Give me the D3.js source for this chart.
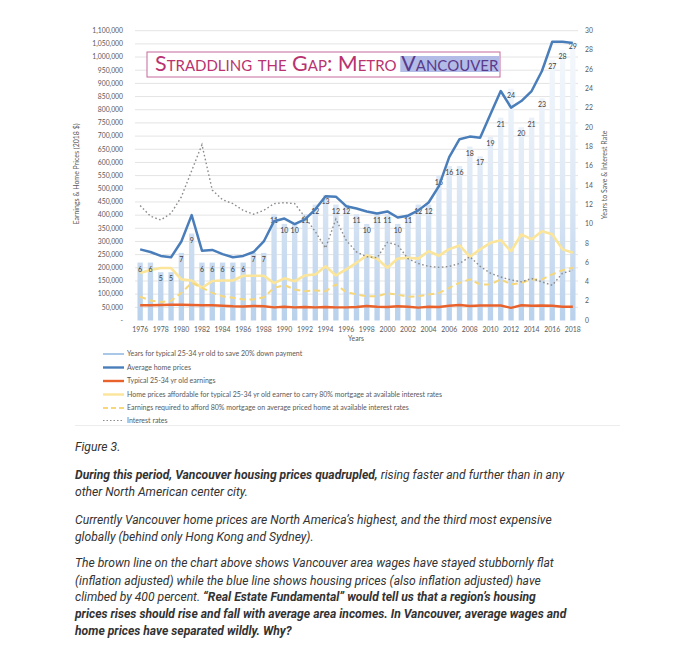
<!DOCTYPE html>
<html><head><meta charset="utf-8">
<script src="https://cdn.jsdelivr.net/npm/d3@7"></script>
<style>body{margin:0;background:#fff}svg{display:block}</style>
</head><body>
<svg id="c" width="674" height="652"></svg>
<script>
const years = [1976,1977,1978,1979,1980,1981,1982,1983,1984,1985,1986,1987,1988,1989,1990,1991,1992,1993,1994,1995,1996,1997,1998,1999,2000,2001,2002,2003,2004,2005,2006,2007,2008,2009,2010,2011,2012,2013,2014,2015,2016,2017,2018];
const yearsToSave = [6,6,5,5,7,9,6,6,6,6,6,7,7,11,10,10,11,12,13,12,12,11,10,11,11,10,11,12,12,15,16,16,18,17,19,21,24,20,21,23,27,28,29];
const homePrices = [270,260,245,240,300,400,265,268,252,240,245,260,300,377,387,366,384,422,472,470,434,425,414,406,414,391,398,418,448,510,620,688,698,694,783,871,808,833,871,947,1058,1058,1053].map(v=>v*1000);
const earnings = [58,58,59,60,60,59,58,58,56,54,53,55,54,50,52,50,51,50,51,50,50,51,55,52,51,54,52,49,52,51,56,59,55,57,57,57,48,58,56,57,56,52,52].map(v=>v*1000);
const affordable = [180,192,199,199,156,152,124,150,152,152,170,170,170,142,160,149,171,175,206,171,194,219,247,234,200,235,238,235,263,246,271,285,242,270,295,305,263,327,308,339,327,270,257].map(v=>v*1000);
const required = [90,76,70,75,105,143,124,105,92,86,80,80,88,124,134,118,111,114,111,137,108,99,92,92,103,98,90,92,99,104,124,143,156,137,137,156,137,143,156,156,175,191,200].map(v=>v*1000);
const interest = [11.9,10.8,10.4,11.1,12.8,15.5,18.2,13.5,12.5,12.1,11.4,11.0,11.4,12.1,12.2,12.1,10.7,9.2,7.5,10.5,8.3,7.1,6.6,6.5,8.1,7.8,6.4,5.9,5.6,5.5,5.6,5.9,6.6,5.6,4.9,4.5,4.2,4.0,4.35,4.0,3.65,4.9,5.2];
const leftTicks = d3.range(0, 1100001, 50000);
const rightTicks = [0,2,4,6,8,10,12,14,16,18,20,22,24,26,28,30];
const xTickYears = years.filter(y => (y - 1976) % 2 === 0);
const legendLabels = [
  "Years for typical 25-34 yr old to save 20% down payment",
  "Average home prices",
  "Typical 25-34 yr old earnings",
  "Home prices affordable for typical 25-34 yr old earner to carry 80% mortgage at available interest rates",
  "Earnings required to afford 80% mortgage on average priced home at available interest rates",
  "Interest rates"
];

const svg = d3.select("#c");
const F = "Lato, 'Open Sans', sans-serif";
const x = d3.scaleBand().domain(years).range([135, 578]).paddingInner(0.48).paddingOuter(0.24);
const cx = d => x(d) + x.bandwidth()/2;
const yL = d3.scaleLinear().domain([0, 1100000]).range([320.5, 30.7]);
const yR = d3.scaleLinear().domain([0, 30]).range([320.5, 30.7]);

const defs = svg.append("defs");
const g1 = defs.append("linearGradient").attr("id","barg").attr("gradientUnits","userSpaceOnUse")
  .attr("x1",0).attr("x2",0).attr("y1",yR(30)).attr("y2",yR(0));
g1.append("stop").attr("offset","0").attr("stop-color","#f7fafd");
g1.append("stop").attr("offset","0.5").attr("stop-color","#e0eaf6");
g1.append("stop").attr("offset","1").attr("stop-color","#b9d1ec");

svg.append("g").selectAll("line").data(leftTicks.slice(1)).join("line")
  .attr("x1",135).attr("x2",578).attr("y1",d=>yL(d)).attr("y2",d=>yL(d))
  .attr("stroke","#e4e4e4").attr("stroke-width",1);

const fmt = d3.format(",");
svg.append("g").selectAll("text").data(leftTicks).join("text")
  .attr("x",123).attr("y",d=>yL(d)+2.3).attr("text-anchor","end")
  .attr("font-family",F).attr("font-size",6.8).attr("fill","#595959")
  .text(d=> d===0 ? "-" : fmt(d));

svg.append("g").selectAll("text").data(rightTicks).join("text")
  .attr("x",585).attr("y",d=>yR(d)+2.3).attr("text-anchor","start")
  .attr("font-family",F).attr("font-size",6.8).attr("fill","#595959")
  .text(d=>d);

svg.append("g").selectAll("text").data(xTickYears).join("text")
  .attr("x",d=>cx(d)).attr("y",331.5).attr("text-anchor","middle")
  .attr("font-family",F).attr("font-size",6.9).attr("fill","#595959")
  .text(d=>d);
svg.append("text").attr("x",356).attr("y",341).attr("text-anchor","middle")
  .attr("font-family",F).attr("font-size",6.8).attr("fill","#595959").text("Years");

svg.append("text").attr("transform","translate(79,174) rotate(-90)").attr("text-anchor","middle")
  .attr("font-family",F).attr("font-size",7).attr("fill","#595959").text("Earnings & Home Prices (2018 $)");
svg.append("text").attr("transform","translate(607,175) rotate(-90)").attr("text-anchor","middle")
  .attr("font-family",F).attr("font-size",7).attr("fill","#595959").text("Years to Save & Interest Rate");

svg.append("g").selectAll("rect").data(years).join("rect")
  .attr("x",d=>x(d)).attr("width",x.bandwidth())
  .attr("y",(d,i)=>yR(yearsToSave[i])).attr("height",(d,i)=>yR(0)-yR(yearsToSave[i]))
  .attr("fill","url(#barg)");

const line = (arr, sc) => d3.line().x((d,i)=>cx(years[i])).y(d=>sc(d))(arr);
svg.append("path").attr("d",line(affordable,yL)).attr("fill","none").attr("stroke","#fbe59a").attr("stroke-width",2.6).attr("stroke-linejoin","round");
svg.append("path").attr("d",line(required,yL)).attr("fill","none").attr("stroke","#f6d77a").attr("stroke-width",2).attr("stroke-dasharray","6,4");
svg.append("path").attr("d",line(earnings,yL)).attr("fill","none").attr("stroke","#e9622b").attr("stroke-width",2.4).attr("stroke-linejoin","round");
svg.append("path").attr("d",line(interest,yR)).attr("fill","none").attr("stroke","#8c8c8c").attr("stroke-width",1.4).attr("stroke-dasharray","1.6,2.4");

svg.append("g").selectAll("text").data(years).join("text")
  .attr("x",d=>cx(d)).attr("y",(d,i)=>yR(yearsToSave[i])+9).attr("text-anchor","middle")
  .attr("font-family",F).attr("font-size",7).attr("fill","#404040")
  .text((d,i)=>yearsToSave[i]);

svg.append("path").attr("d",line(homePrices,yL)).attr("fill","none").attr("stroke","#4a7ebb").attr("stroke-width",2.5).attr("stroke-linejoin","round");

svg.append("rect").attr("x",147).attr("y",52).attr("width",353).attr("height",25)
  .attr("fill","#fff").attr("stroke","#c6689a").attr("stroke-width",1);
const tt = svg.append("text").attr("x",155).attr("y",71).attr("font-family","Lato, sans-serif")
  .attr("font-size",19).attr("font-variant","small-caps").attr("fill","#b83370");
tt.append("tspan").text("Straddling the Gap: Metro ");
tt.append("tspan").attr("fill","#5b3a8c").text("Vancouver");
let tw = tt.node().getComputedTextLength();
tt.attr("font-size", 19*338/tw);
{
  const n = tt.node();
  const nch = n.getNumberOfChars();
  const start = "Straddling the Gap: Metro ".length;
  const s = n.getStartPositionOfChar(start).x;
  const e = n.getEndPositionOfChar(nch-1).x;
  svg.insert("rect", function(){return n;}).attr("x",s-1).attr("y",56).attr("width",e-s+2).attr("height",16).attr("fill","#b3bce6");
}

const lg = svg.append("g");
legendLabels.forEach((t,i)=>{
  const yy = [354,367.5,381,394.5,408,420.5][i];
  const l = lg.append("line").attr("x1",103).attr("x2",124).attr("y1",yy).attr("y2",yy);
  if(i===0) l.attr("stroke","#a9c8e8").attr("stroke-width",2);
  if(i===1) l.attr("stroke","#4a7ebb").attr("stroke-width",2.4);
  if(i===2) l.attr("stroke","#e9622b").attr("stroke-width",2.4);
  if(i===3) l.attr("stroke","#fbe59a").attr("stroke-width",2.4);
  if(i===4) l.attr("stroke","#f6d77a").attr("stroke-width",2).attr("stroke-dasharray","5,3");
  if(i===5) l.attr("stroke","#8c8c8c").attr("stroke-width",1.2).attr("stroke-dasharray","1.5,2");
  lg.append("text").attr("x",127).attr("y",yy+2.3).attr("font-family",F).attr("font-size",7).attr("fill","#595959").text(t);
});
svg.append("line").attr("x1",75).attr("x2",620).attr("y1",425.5).attr("y2",425.5).attr("stroke","#ececec");

const TF = "Roboto, 'Open Sans', sans-serif";
const paraLines = [
  [451, [["Figure 3.", 400]]],
  [479, [["During this period, Vancouver housing prices quadrupled,", 700], [" rising faster and further than in any", 400]]],
  [496, [["other North American center city.", 400]]],
  [524, [["Currently Vancouver home prices are North America’s highest, and the third most expensive", 400]]],
  [541, [["globally (behind only Hong Kong and Sydney).", 400]]],
  [567, [["The brown line on the chart above shows Vancouver area wages have stayed stubbornly flat", 400]]],
  [585, [["(inflation adjusted) while the blue line shows housing prices (also inflation adjusted) have", 400]]],
  [601, [["climbed by 400 percent. ", 400], ["“Real Estate Fundamental” would tell us that a region’s housing", 700]]],
  [618, [["prices rises should rise and fall with average area incomes. In Vancouver, average wages and", 700]]],
  [635, [["home prices have separated wildly. Why?", 700]]]
];
const tg = svg.append("g").attr("font-family",TF).attr("font-style","italic").attr("fill","#333").attr("font-size",13);
const texts = paraLines.map(([yy, parts])=>{
  const t = tg.append("text").attr("x",75).attr("y",yy).attr("font-style","italic");
  parts.forEach(([s,w])=>t.append("tspan").attr("font-weight",w).attr("font-style","italic").text(s));
  return t;
});
const w1 = texts[1].node().getComputedTextLength();
tg.attr("font-size", 13*490/w1);
</script>
</body></html>
